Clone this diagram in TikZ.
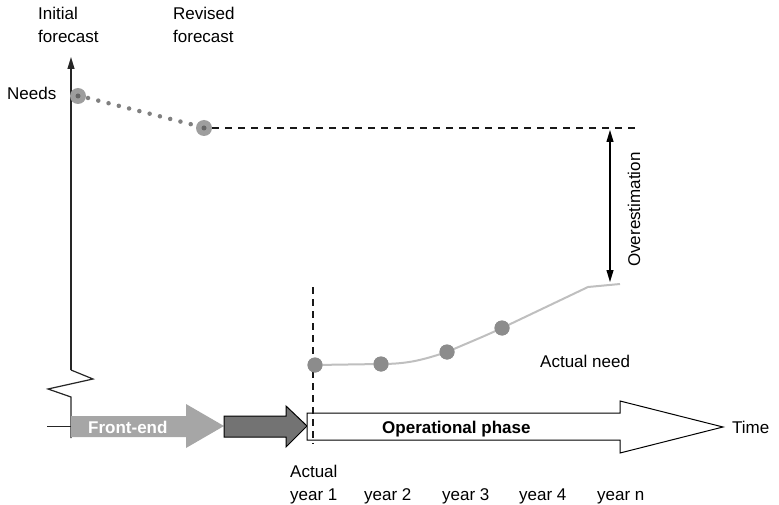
\documentclass[tikz,border=0pt]{standalone}
\usepackage{fontspec}
\setmainfont{Liberation Sans}
\usetikzlibrary{arrows.meta}
\begin{document}
\begin{tikzpicture}[x=1pt,y=-1pt,
  lbl/.style={font=\fontsize{17}{23}\selectfont, inner sep=0pt, anchor=base west, align=left},
  bold lbl/.style={lbl, font=\fontsize{17}{23}\selectfont\bfseries},
  axisline/.style={draw=black!85, line width=1.2pt},
  dashline/.style={draw=black!90, line width=1.5pt, dash pattern=on 7pt off 6pt},
  bigdot/.style={circle, fill=black!38, minimum size=16pt, inner sep=0pt},
  needdot/.style={circle, fill=black!45, minimum size=15pt, inner sep=0pt},
  tip/.style={-{Triangle[length=12pt,width=7pt]}},
]
\useasboundingbox (0,0) rectangle (779,505);

% vertical axis with a break
\coordinate (axtop) at (71,57);
\coordinate (axbot) at (71,438);
\draw[axisline, tip] (71,370) -- (axtop);
\draw[axisline] (71,370) -- (93,379) -- (48,389) -- (71,397) -- (axbot);
\draw[axisline, line width=1pt] (47,426) -- (71,426);

% phase arrows
\fill[black!35] (71,416) -- (186,416) -- (186,404) -- (224,426) -- (186,448) -- (186,437) -- (71,437) -- cycle;
\draw[fill=black!55, draw=black, line width=1pt] (224,416) -- (286,416) -- (286,406) -- (307,426) -- (286,447) -- (286,437) -- (224,437) -- cycle;
\draw[fill=white, draw=black, line width=1pt] (307,413) -- (620,413) -- (620,401) -- (723,427) -- (620,453) -- (620,440) -- (307,440) -- cycle;
\node[bold lbl, text=white] (frontend) at (88,433) {Front-end};
\node[bold lbl] (operational) at (382,433) {Operational phase};
\node[lbl] (time) at (732,433) {Time};

% forecast needs
\node[bigdot] (initial) at (78,96) {};
\node[bigdot] (revised) at (204,128) {};
\fill[black!60] (initial.center) circle (2.5pt);
\fill[black!60] (revised.center) circle (2.5pt);
\draw[black!50, line width=4.5pt, line cap=round, dash pattern=on 0pt off 10.6pt]
  (88,98) -- (194,125);
\coordinate (dashend) at (637,128);
\draw[dashline] (revised.east) -- (dashend);

% actual need curve
\draw[dashline, dash pattern=on 7pt off 5pt] (313,287) -- (313,444);
\node[needdot] (y1) at (315,365) {};
\node[needdot] (y2) at (381,364) {};
\node[needdot] (y3) at (447,352) {};
\node[needdot] (y4) at (502,328) {};
\coordinate (kink) at (588,287);
\coordinate (yn) at (620,284);
\draw[black!25, line width=2pt]
  (y1.center) -- (y2.center) .. controls (410,364) and (425,359) .. (y3.center)
  .. controls (470,342) and (485,336) .. (y4.center) -- (kink) -- (yn);
\foreach \n in {y1,y2,y3,y4} \node[needdot] at (\n) {};

% overestimation gap
\coordinate (gaptop) at (610,130);
\coordinate (gapbot) at (610,282);
\draw[black, line width=1.1pt, {Triangle[length=12pt,width=7pt]}-{Triangle[length=12pt,width=7pt]}] (gaptop) -- (gapbot);
\node[lbl, rotate=90] (over) at (640,267) {Overestimation};

% labels (two-line labels sit on the baseline of their last line)
\node[lbl] (needs) at (7,100) {Needs};
\node[lbl] (initlbl) at (38,43) {Initial\\forecast};
\node[lbl] (revlbl) at (173,43) {Revised\\forecast};
\node[lbl] (actualneed) at (540,367) {Actual need};
\node[lbl] (yr1) at (290,500) {Actual\\year 1};
\node[lbl] (yr2) at (364,500) {year 2};
\node[lbl] (yr3) at (442,500) {year 3};
\node[lbl] (yr4) at (519,500) {year 4};
\node[lbl] (yrn) at (597,500) {year n};
\end{tikzpicture}
\end{document}
